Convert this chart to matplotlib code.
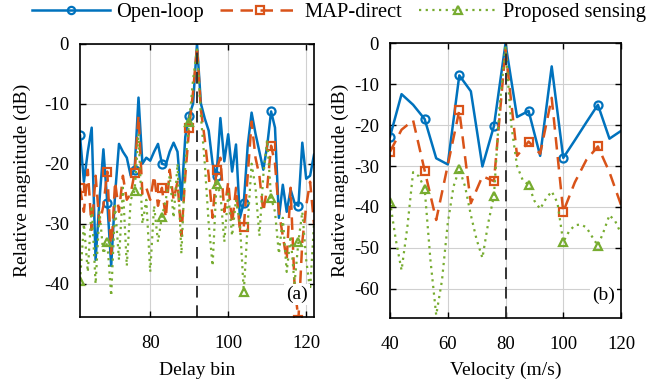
import matplotlib
matplotlib.use("Agg")
import matplotlib.pyplot as plt
import numpy as np

plt.rcParams['font.family'] = ['Liberation Serif', 'DejaVu Serif']
plt.rcParams['axes.unicode_minus'] = False
plt.rcParams['font.size'] = 13

# ---------------- data: panel (a) ----------------
delay_bins = list(range(62, 123))
open_loop_a = [-15.3, -23, -18, -14, -36, -26, -17.6, -26.5, -37, -25,
               -16.7, -18, -19, -22, -21, -9, -20, -19, -19.5, -18,
               -16.7, -20, -20.2, -18, -16.5, -18, -26, -15.5, -12, -10,
               0, -10, -12.5, -14.5, -20, -22, -12.4, -19.6, -15.1, -21.3,
               -16.8, -29, -26.5, -17, -11.5, -15, -18, -21, -17, -11.3,
               -14, -29, -23.5, -28, -24.3, -26.5, -27, -16.5, -22.5, -22,
               -18.5]
map_direct_a = [-24, -28, -21, -31, -22, -30, -27, -21.3, -35, -23,
                -28, -22, -26, -25, -21.5, -12, -25, -24, -26, -22,
                -27, -24, -29, -21, -26, -23, -32, -22, -14, -8,
                -0.5, -11, -16, -22, -29, -21, -19, -28, -23, -30,
                -24, -31, -30.5, -22, -13, -19, -22, -28, -24, -17,
                -20, -28, -32, -36, -24, -40, -46, -33, -27, -23,
                -30]
proposed_a = [-39.5, -30, -38, -27, -40, -28, -35, -33, -42, -27,
              -36, -24, -37, -26, -24.5, -15, -30, -26, -38, -27,
              -33, -28.8, -26, -22, -29, -20, -35, -20, -13, -6,
              -1, -12, -20, -30, -37, -23.3, -25, -33, -25, -32,
              -26, -30, -41.3, -30, -20, -24, -32, -22, -16, -25.7,
              -28, -35, -29, -38, -32, -40, -33, -28, -36, -41,
              -30]

# ---------------- data: panel (b) ----------------
velocity = list(range(40, 121, 4))
open_loop_b = [-22.8, -12.4, -15, -18.5, -28.1, -29.6, -7.8, -11.7, -30.1, -20.2,
               0, -18, -16.5, -27.5, -5.6, -28, -23.7, -19.3, -15, -23.3, -21.4]
map_direct_b = [-26.5, -21.1, -18.8, -31.1, -43.2, -29.8, -16.4, -39.1, -32.5, -33.7,
                -1.5, -27.5, -24, -27, -13.3, -41.2, -34, -28.5, -25.2, -31.5, -39.5]
velocity_fine = list(range(40, 121, 2))
proposed_b = [-38.7, -48, -55.5, -45, -31.5, -32.5, -35.5, -53, -66.5, -58,
              -44, -35, -30.7, -35, -42, -48, -52.5, -44, -37.3, -15,
              -1, -20, -30, -33.5, -34.6, -38.5, -40.5, -38, -36.2, -39,
              -48.6, -46, -44.5, -44.3, -45, -47.3, -49.5, -46, -42, -43.5,
              -46.5]

blue = '#0072BD'
orange = '#D95319'
green = '#77AC30'

W, H = 658, 381
fig = plt.figure(figsize=(W / 100, H / 100), dpi=100)

def px_axes(x0, x1, ytop, ybot):
    return fig.add_axes([x0 / W, 1 - ybot / H, (x1 - x0) / W, (ybot - ytop) / H])

ax1 = px_axes(80, 314, 43.5, 317)
ax2 = px_axes(390, 621, 43.5, 318)

LABEL_FS = 14
TICK_FS = 13.5

def style(ax):
    ax.grid(True, color='#d0d0d0', linewidth=0.8)
    ax.set_axisbelow(True)
    for s in ax.spines.values():
        s.set_linewidth(1.2)
    ax.tick_params(direction='in', top=True, right=True, length=4, width=1,
                   labelsize=TICK_FS)
    ax.tick_params(axis='x', pad=13)
    ax.tick_params(axis='y', pad=8)

def draw(ax, x, y, color, ls, marker, me, lw, label):
    ax.plot(x, y, color=color, linestyle=ls, linewidth=lw, marker=marker,
            markevery=me, markersize=5.8, markerfacecolor='none',
            markeredgecolor=color, markeredgewidth=1.6, label=label)

# panel (a)
draw(ax1, delay_bins, open_loop_a, blue, '-', 'o', 7, 1.8, 'Open-loop')
draw(ax1, delay_bins, map_direct_a, orange, (0, (5, 3)), 's', 7, 1.8, 'MAP-direct')
draw(ax1, delay_bins, proposed_a, green, (0, (1, 2)), '^', 7, 1.6, 'Proposed sensing')
ax1.axvline(92, color='#333333', linestyle=(0, (6, 4)), linewidth=1.4)
ax1.set_xlim(62, 122)
ax1.set_ylim(-45.5, 0)
ax1.set_xticks([80, 100, 120])
ax1.set_yticks([0, -10, -20, -30, -40])
ax1.set_xlabel('Delay bin', fontsize=LABEL_FS)
ax1.set_ylabel('Relative magnitude (dB)', fontsize=LABEL_FS)
ax1.yaxis.set_label_coords((31.5 - 80) / 234, 0.5)
ax1.xaxis.set_label_coords(0.5, -(362 - 317) / 273.5)
ax1.text(0.975, 0.05, '(a)', transform=ax1.transAxes, ha='right', va='bottom',
         fontsize=LABEL_FS, bbox=dict(facecolor='white', edgecolor='none', pad=1.5))
style(ax1)

# panel (b)
draw(ax2, velocity, open_loop_b, blue, '-', 'o', 3, 1.8, 'Open-loop')
draw(ax2, velocity, map_direct_b, orange, (0, (5, 3)), 's', 3, 1.8, 'MAP-direct')
draw(ax2, velocity_fine, proposed_b, green, (0, (1, 2)), '^', 6, 1.6, 'Proposed sensing')
ax2.axvline(80, color='#333333', linestyle=(0, (6, 4)), linewidth=1.4)
ax2.set_xlim(40, 120)
ax2.set_ylim(-67.2, 0)
ax2.set_xticks([40, 60, 80, 100, 120])
ax2.set_yticks([0, -10, -20, -30, -40, -50, -60])
ax2.set_xlabel('Velocity (m/s)', fontsize=LABEL_FS)
ax2.set_ylabel('Relative magnitude (dB)', fontsize=LABEL_FS)
ax2.yaxis.set_label_coords((349 - 390) / 231, 0.5)
ax2.xaxis.set_label_coords(0.5, -(362 - 318) / 274.5)
ax2.text(0.975, 0.05, '(b)', transform=ax2.transAxes, ha='right', va='bottom',
         fontsize=LABEL_FS, bbox=dict(facecolor='white', edgecolor='none', pad=1.5))
style(ax2)

handles, labels = ax1.get_legend_handles_labels()
fig.legend(handles, labels, loc='upper left', bbox_to_anchor=(32 / W, 1 - 3 / H), ncol=3,
           frameon=False, fontsize=14.8, handlelength=3.8, columnspacing=0.8,
           handletextpad=0.3, borderpad=0, borderaxespad=0, markerscale=0.9)

fig.savefig('out.png', dpi=100)
